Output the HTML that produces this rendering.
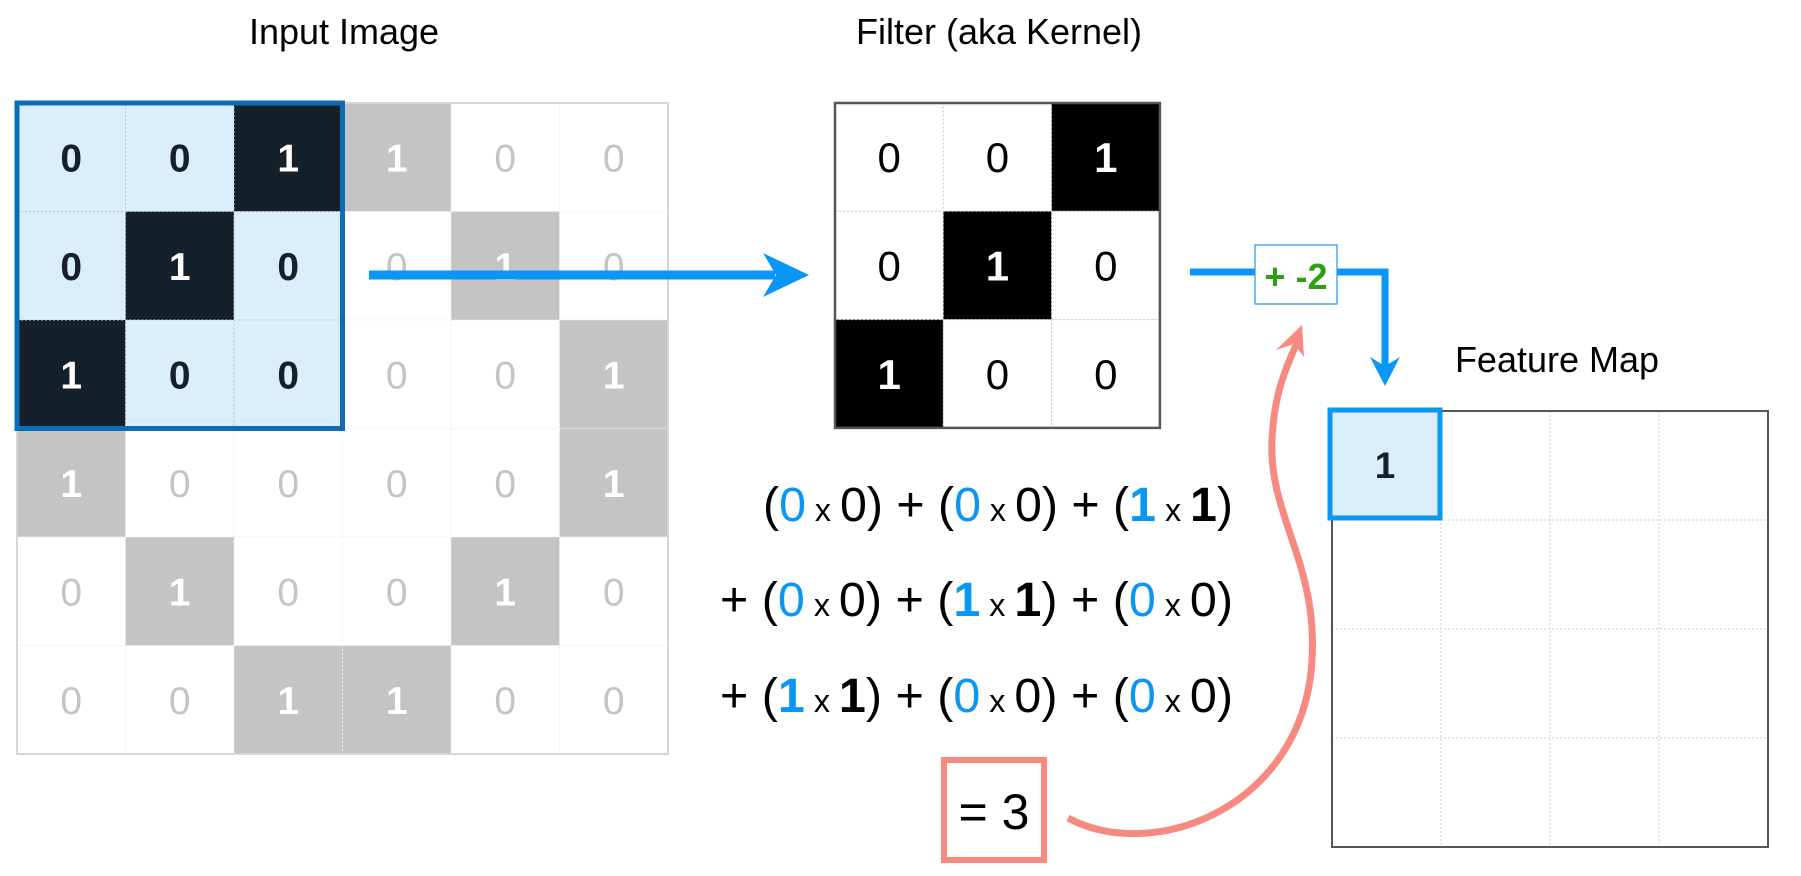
<!DOCTYPE html>
<html><head><meta charset="utf-8"><style>
html,body{margin:0;padding:0;background:#fff;}
svg{display:block;font-family:"Liberation Sans",Arial,sans-serif;}
</style></head><body>
<svg id="fig" width="1801" height="876" viewBox="0 0 1801 876" xmlns="http://www.w3.org/2000/svg">
<text x="344" y="44" font-size="36" text-anchor="middle" fill="#000">Input Image</text>
<text x="999" y="44" font-size="36" text-anchor="middle" fill="#000">Filter (aka Kernel)</text>
<text x="1557" y="372" font-size="36" text-anchor="middle" fill="#000">Feature Map</text>
<g id="input"></g>
<g id="filter"></g>
<g id="fmap"></g>

<g>
<line x1="369" y1="275" x2="775" y2="275" stroke="#0a96f5" stroke-width="9"/>
<polygon points="809,275 763,253 776,275 763,297" fill="#0a96f5"/>
</g>
<g>
<polyline points="1190,272 1385,272 1385,370" fill="none" stroke="#0a96f5" stroke-width="7"/>
<polygon points="1385,386 1370,357 1385,366 1400,357" fill="#0a96f5"/>
</g>
<rect x="1255" y="245" width="82" height="59" fill="#fff" stroke="#4aa8f0" stroke-width="1.5"/>
<text x="1296" y="289" font-size="36" font-weight="bold" text-anchor="middle" fill="#2aa012">+ -2</text>

<g id="eq"></g>

<rect x="944" y="760" width="100" height="100" fill="#fff" stroke="#f78a80" stroke-width="6"/>
<text x="994" y="829" font-size="50" text-anchor="middle" fill="#000">= 3</text>
<g>
<path d="M1068,818 C1150,862 1290,812 1310,680 C1325,570 1268,520 1272,440 C1274,395 1285,370 1296,345" fill="none" stroke="#f78a80" stroke-width="7"/>
<polygon points="1302,325 1276,350 1294,344 1304,357" fill="#f78a80"/>
</g>
</svg>
<script>
const inputValues = [
 [0,0,1,1,0,0],
 [0,1,0,0,1,0],
 [1,0,0,0,0,1],
 [1,0,0,0,0,1],
 [0,1,0,0,1,0],
 [0,0,1,1,0,0]
];
const filterValues = [[0,0,1],[0,1,0],[1,0,0]];
const featureMapFirst = 1;
const featureRows = 4;
const biasValue = -2;

const NS = "http://www.w3.org/2000/svg";
function mk(tag, attrs, parent){const e=document.createElementNS(NS,tag);for(const k in attrs)e.setAttribute(k,attrs[k]);parent.appendChild(e);return e;}

const gIn = document.getElementById('input');
const ix0=17, iy0=103, ic=108.5;
for(let r=0;r<6;r++)for(let c=0;c<6;c++){
  const v=inputValues[r][c], sel=r<3&&c<3;
  const fill = sel ? (v? "#15202b":"#dbeefc") : (v? "#c4c4c4":"#fff");
  const rc=mk('rect',{x:ix0+c*ic,y:iy0+r*ic,width:ic,height:ic,fill:fill,stroke:sel?"#b8c6d2":"#eeeeee","stroke-dasharray":"2,2","stroke-width":1},gIn);
  
  
  const t=mk('text',{x:ix0+c*ic+ic/2,y:iy0+r*ic+ic/2+14,"font-size":39,"text-anchor":"middle","font-weight":(sel||v)?"bold":"normal",fill: sel?(v?"#fff":"#15202b"):(v?"#fff":"#c4c4c4")},gIn);
  t.textContent=v;
  
  
}
const ob=mk('rect',{x:ix0,y:iy0,width:6*ic,height:6*ic,fill:"none",stroke:"#d6d6d6","stroke-width":2},gIn);


const sb=mk('rect',{x:ix0,y:iy0,width:3*ic,height:3*ic,fill:"none",stroke:"#0a6db5","stroke-width":5},gIn);



const gF=document.getElementById('filter');
const fx0=835, fy0=103, fc=108.3;
for(let r=0;r<3;r++)for(let c=0;c<3;c++){
  const v=filterValues[r][c];
  const rc=mk('rect',{x:fx0+c*fc,y:fy0+r*fc,width:fc,height:fc,fill:v?"#000":"#fff",stroke:"#cccccc","stroke-dasharray":"2,2","stroke-width":1},gF);
  
  
  const t=mk('text',{x:fx0+c*fc+fc/2,y:fy0+r*fc+fc/2+15,"font-size":42,"text-anchor":"middle","font-weight":v?"bold":"normal",fill:v?"#fff":"#000"},gF);
  t.textContent=v;
  
  
}
const fb=mk('rect',{x:fx0,y:fy0,width:3*fc,height:3*fc,fill:"none",stroke:"#555","stroke-width":2.5},gF);



const gM=document.getElementById('fmap');
const mx0=1332, my0=411, mc=109;
for(let i=1;i<featureRows;i++){
  const l1=mk('line',{x1:mx0+i*mc,y1:my0,x2:mx0+i*mc,y2:my0+featureRows*mc,stroke:"#cccccc","stroke-dasharray":"2,2"},gM);
  
  
  const l2=mk('line',{x1:mx0,y1:my0+i*mc,x2:mx0+featureRows*mc,y2:my0+i*mc,stroke:"#cccccc","stroke-dasharray":"2,2"},gM);
  
  
}
const mb=mk('rect',{x:mx0,y:my0,width:featureRows*mc,height:featureRows*mc,fill:"none",stroke:"#555","stroke-width":2},gM);


const hc=mk('rect',{x:1330,y:410,width:110,height:108,fill:"#dbeefc",stroke:"#0a96f5","stroke-width":5},gM);


const ht=mk('text',{x:1385,y:478,"font-size":37,"font-weight":"bold","text-anchor":"middle",fill:"#15202b"},gM);
ht.textContent=featureMapFirst;



const gE=document.getElementById('eq');
const rowsY=[521,616,712];
for(let r=0;r<3;r++){
  const t=mk('text',{"font-size":48,y:rowsY[r],"text-anchor":"end",x:1233},gE);
  
  
  let parts=[];
  if(r>0) parts.push(['+ ','#000','normal',48]);
  for(let c=0;c<3;c++){
    const a=inputValues[r][c], b=filterValues[r][c];
    if(c>0) parts.push([' + ','#000','normal',48]);
    parts.push(['(','#000','normal',48]);
    parts.push([String(a),'#0a96f5',a?'bold':'normal',48]);
    parts.push([' x ','#000','normal',32]);
    parts.push([String(b),'#000',b?'bold':'normal',48]);
    parts.push([')','#000','normal',48]);
  }
  for(const p of parts){
    const s=mk('tspan',{fill:p[1],"font-weight":p[2],"font-size":p[3]},t);
    s.textContent=p[0];
  }
  t.setAttribute('xml:space','preserve');
  t.style.whiteSpace='pre';
  const w=r===0?1233-763:1233-720;
  t.setAttribute('textLength',w);
  t.setAttribute('lengthAdjust','spacingAndGlyphs');
}
</script>
</body></html>
